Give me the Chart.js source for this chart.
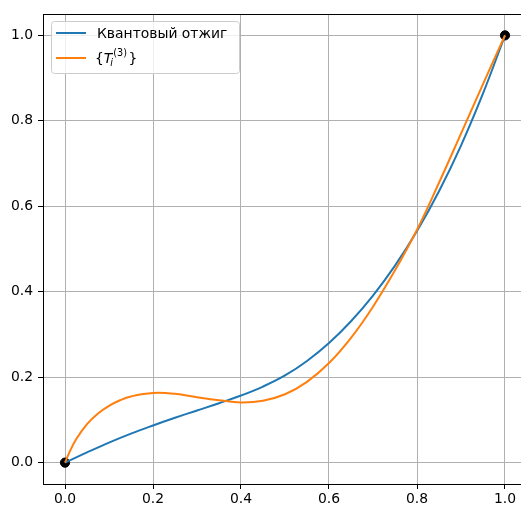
<!DOCTYPE html>
<html>
<head>
<meta charset="utf-8">
<script src="https://cdn.jsdelivr.net/npm/chart.js@4"></script>
<style>
  html, body { margin: 0; padding: 0; overflow: hidden; background: #fff; }
  canvas { display: block; }
</style>
</head>
<body>
<canvas id="grafico" width="540" height="506" style="width:540px;height:506px"></canvas>
<script>
// значения
const xAnneal = [0, 0.05, 0.1, 0.15, 0.2, 0.25, 0.3, 0.35, 0.4, 0.45, 0.5, 0.55, 0.6, 0.65, 0.7, 0.75, 0.8, 0.85, 0.9, 0.95, 1.0];
const yAnneal = [0, 0.024, 0.047, 0.068, 0.087, 0.105, 0.122, 0.139, 0.157, 0.178, 0.204, 0.238, 0.28, 0.331, 0.391, 0.461, 0.542, 0.635, 0.742, 0.864, 1.0];

const xT3 = [0, 0.01, 0.025, 0.05, 0.075, 0.1, 0.125, 0.15, 0.2, 0.25, 0.3, 0.35, 0.4, 0.45, 0.5, 0.55, 0.6, 0.65, 0.7, 0.75, 0.8, 0.85, 0.9, 0.95, 1.0];
const yT3 = [0, 0.024, 0.054, 0.09, 0.115, 0.133, 0.146, 0.155, 0.163, 0.161, 0.153, 0.146, 0.141, 0.145, 0.16, 0.189, 0.233, 0.292, 0.365, 0.45, 0.545, 0.655, 0.77, 0.886, 1.0];

const xEnds = [0, 1];
const yEnds = [0, 1];

const ticksX = [0, 0.2, 0.4, 0.6, 0.8, 1.0];
const ticksY = [0, 0.2, 0.4, 0.6, 0.8, 1.0];

const etiquetas = ['Квантовый отжиг', '{T_i^(3)}'];

const FUENTE = '"DejaVu Sans", sans-serif';
const toPts = (xs, ys) => xs.map((x, i) => ({ x: x, y: ys[i] }));

// marco superior y derecho como en matplotlib
const marco = {
    id: 'marco',
    afterDatasetsDraw(chart) {
        const { ctx, chartArea: a } = chart;
        ctx.save();
        ctx.strokeStyle = '#000';
        ctx.lineWidth = 1;
        ctx.beginPath();
        ctx.moveTo(a.left, a.top + 0.5);
        ctx.lineTo(a.right, a.top + 0.5);
        ctx.moveTo(a.right - 0.5, a.top);
        ctx.lineTo(a.right - 0.5, a.bottom);
        ctx.stroke();
        ctx.restore();
    }
};

// leyenda dentro del área, arriba a la izquierda
const leyenda = {
    id: 'leyenda',
    afterDraw(chart) {
        const { ctx, chartArea: a } = chart;
        const x0 = a.left + 8, y0 = a.top + 7, w = 188, h = 52;
        ctx.save();
        ctx.fillStyle = 'rgba(255,255,255,0.8)';
        ctx.strokeStyle = '#cccccc';
        ctx.lineWidth = 1;
        ctx.beginPath();
        ctx.roundRect(x0 + 0.5, y0 + 0.5, w, h, 3);
        ctx.fill();
        ctx.stroke();

        const colores = ['#1f77b4', '#ff7f0e'];
        const filas = [y0 + 12, y0 + 37];
        ctx.lineWidth = 2;
        filas.forEach((yy, i) => {
            ctx.strokeStyle = colores[i];
            ctx.beginPath();
            ctx.moveTo(x0 + 5, yy);
            ctx.lineTo(x0 + 35, yy);
            ctx.stroke();
        });

        const tx = x0 + 46;
        ctx.fillStyle = '#000';
        ctx.textBaseline = 'alphabetic';
        ctx.font = '13.9px ' + FUENTE;
        ctx.fillText(etiquetas[0], tx, filas[0] + 5);

        // {T_i^(3)}
        const base = filas[1] + 5;
        let cx = tx - 2;
        ctx.font = '13.9px ' + FUENTE;
        ctx.fillText('{', cx, base);
        cx += ctx.measureText('{').width;
        ctx.font = 'italic 13.9px ' + FUENTE;
        ctx.fillText('T', cx, base);
        cx += ctx.measureText('T').width;
        ctx.font = 'italic 9.7px ' + FUENTE;
        ctx.fillText('i', cx - 2, base + 3);
        ctx.font = '9.7px ' + FUENTE;
        ctx.fillText('(3)', cx + 1, base - 7);
        cx += 1 + ctx.measureText('(3)').width + 1.5;
        ctx.font = '13.9px ' + FUENTE;
        ctx.fillText('}', cx, base);
        ctx.restore();
    }
};

const ctx = document.getElementById('grafico').getContext('2d');

new Chart(ctx, {
    type: 'scatter',
    data: {
        datasets: [{
            label: etiquetas[0],
            data: toPts(xAnneal, yAnneal),
            showLine: true,
            borderColor: '#1f77b4',
            borderWidth: 2,
            pointRadius: 0,
            tension: 0.4,
            order: 1
        }, {
            label: etiquetas[1],
            data: toPts(xT3, yT3),
            showLine: true,
            borderColor: '#ff7f0e',
            borderWidth: 2,
            pointRadius: 0,
            tension: 0.4,
            order: 0
        }, {
            label: 'ends',
            data: toPts(xEnds, yEnds),
            showLine: false,
            backgroundColor: '#000',
            borderColor: '#000',
            pointRadius: 4.6,
            order: 2
        }]
    },
    options: {
        responsive: false,
        animation: false,
        devicePixelRatio: 1,
        layout: {
            padding: { top: 14, right: 13, left: 0, bottom: 0 }
        },
        plugins: {
            legend: { display: false },
            tooltip: { enabled: false }
        },
        scales: {
            x: {
                type: 'linear',
                min: -0.05,
                max: 1.05,
                afterBuildTicks: (s) => { s.ticks = ticksX.map(v => ({ value: v })); },
                afterFit: (s) => { s.height = 22; },
                grid: { color: '#b0b0b0', lineWidth: 1, tickLength: 5, tickColor: '#000' },
                border: { color: '#000', width: 1 },
                ticks: {
                    color: '#000',
                    padding: 2,
                    maxRotation: 0,
                    font: { family: FUENTE, size: 13.9 },
                    callback: (v) => v.toFixed(1)
                }
            },
            y: {
                type: 'linear',
                min: -0.05,
                max: 1.05,
                afterBuildTicks: (s) => { s.ticks = ticksY.map(v => ({ value: v })); },
                afterFit: (s) => { s.width = 43; },
                grid: { color: '#b0b0b0', lineWidth: 1, tickLength: 5, tickColor: '#000' },
                border: { color: '#000', width: 1 },
                ticks: {
                    color: '#000',
                    padding: 5,
                    font: { family: FUENTE, size: 13.9 },
                    callback: (v) => v.toFixed(1)
                }
            }
        }
    },
    plugins: [marco, leyenda]
});
</script>
</body>
</html>
